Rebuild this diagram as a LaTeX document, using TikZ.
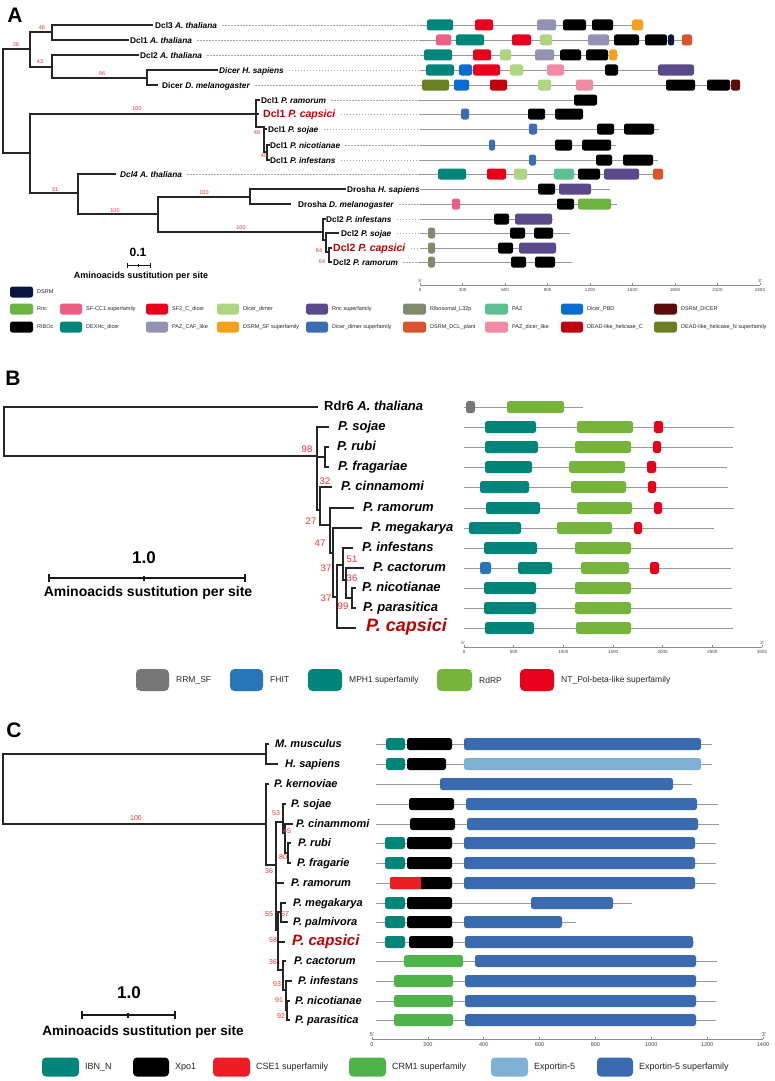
\documentclass[tikz,border=0pt]{standalone}
\usepackage{fontspec}
\setmainfont{Liberation Sans}
\definecolor{cTeal}{HTML}{00857A}
\definecolor{cRed}{HTML}{E8001C}
\definecolor{cPazCaf}{HTML}{9492B3}
\definecolor{cOrange}{HTML}{F7A11A}
\definecolor{cPinkSF}{HTML}{EC5F84}
\definecolor{cDimer}{HTML}{AED581}
\definecolor{cNavy}{HTML}{0B1541}
\definecolor{cDCLplant}{HTML}{D9542B}
\definecolor{cPBD}{HTML}{0B6CCF}
\definecolor{cRncSF}{HTML}{5B4A8B}
\definecolor{cDicerDSRM}{HTML}{5C0A0A}
\definecolor{cDeadN}{HTML}{6B7F25}
\definecolor{cDeadC}{HTML}{C00010}
\definecolor{cPazDicer}{HTML}{F08AA6}
\definecolor{cDimerSF}{HTML}{3A6DB3}
\definecolor{cRibo}{HTML}{7F8A6E}
\definecolor{cPAZ}{HTML}{5CC090}
\definecolor{cRnc}{HTML}{6DB33F}
\definecolor{cRRM}{HTML}{777777}
\definecolor{cFHIT}{HTML}{2676B8}
\definecolor{cRdRP}{HTML}{76B43C}
\definecolor{cCSE}{HTML}{EE1C25}
\definecolor{cCRM}{HTML}{4DB34A}
\definecolor{cExp}{HTML}{7FB0D6}
\definecolor{cExpSF}{HTML}{3A6AB0}
\definecolor{capred}{HTML}{C00000}
\definecolor{bsred}{HTML}{FF3030}
\tikzset{
 treeA/.style={draw=black!85, line width=1.1pt, line cap=rect},
 treeB/.style={draw=black!85, line width=1.5pt, line cap=rect},
 treeC/.style={draw=black!85, line width=1.3pt, line cap=rect},
 lab/.style={anchor=west, inner sep=0pt, text height=0.7em, text depth=0pt},
 labA/.style={lab, font=\fontsize{8.3}{10}\selectfont\bfseries},
 capA/.style={lab, font=\fontsize{10.5}{12}\selectfont\bfseries, text=capred},
 labB/.style={lab, font=\fontsize{13}{15}\selectfont\bfseries\itshape},
 capB/.style={lab, font=\fontsize{18}{20}\selectfont\bfseries\itshape, text=capred},
 labC/.style={lab, font=\fontsize{11}{13}\selectfont\bfseries\itshape},
 capC/.style={lab, font=\fontsize{15}{17}\selectfont\bfseries\itshape, text=capred},
 bsA/.style={inner sep=0pt, text=bsred, font=\fontsize{5.5}{6}\selectfont},
 bsB/.style={inner sep=0pt, text=bsred, font=\fontsize{9.5}{10}\selectfont},
 bsC/.style={inner sep=0pt, text=bsred, font=\fontsize{7}{8}\selectfont},
 prot/.style={draw=black!40, line width=0.9pt},
 leader/.style={draw=black!35, line width=0.6pt, dash pattern=on 1.5pt off 1.5pt},
 axis/.style={draw=black!45, line width=1pt},
 tickA/.style={inner sep=0pt, font=\fontsize{4.5}{5}\selectfont, text=black!75},
 tickC/.style={inner sep=0pt, font=\fontsize{5.5}{6}\selectfont, text=black!75},
 panel/.style={inner sep=0pt, font=\fontsize{21}{24}\selectfont\bfseries},
 legA/.style={anchor=west, inner sep=0pt, font=\fontsize{5.5}{6}\selectfont, text=black!85},
 legB/.style={anchor=west, inner sep=0pt, font=\fontsize{8.5}{9}\selectfont, text=black!85},
 legC/.style={anchor=west, inner sep=0pt, font=\fontsize{9}{10}\selectfont, text=black!85},
 sbar/.style={draw=black!90, line width=1.4pt},
 sbnum/.style={inner sep=0pt, font=\fontsize{17}{19}\selectfont\bfseries},
 sbtxt/.style={inner sep=0pt, font=\fontsize{14}{16}\selectfont\bfseries},
}
\newcommand\domA[4]{\fill[#4,rounded corners=2.2pt] (#1,#3-5.5) rectangle (#2,#3+5.5);}
\newcommand\domB[4]{\fill[#4,rounded corners=2.5pt] (#1,#3-6) rectangle (#2,#3+6);}
\newcommand\legsw[6]{\fill[#5,rounded corners=#6] (#1,#3-#4/2) rectangle (#2,#3+#4/2);}
\begin{document}
\begin{tikzpicture}[x=1pt,y=-1pt]
\useasboundingbox (0,0) rectangle (775,1081);
\fill[white] (0,0) rectangle (775,1081);

%================ PANEL A =================
\node[panel] (pnA) at (15,15) {A};
% internal nodes
\coordinate (aR) at (3,101);
\coordinate (a1) at (30,49);
\coordinate (a2) at (52,32);
\coordinate (a3) at (52,67);
\coordinate (a4) at (147,78);
\coordinate (b1) at (30,153);
\coordinate (b2) at (256,114);
\coordinate (b4) at (264,127);
\coordinate (b5) at (267,152);
\coordinate (b3) at (78,193);
\coordinate (b6) at (158,214);
\coordinate (b7) at (250,197);
\coordinate (b8) at (323,232);
\coordinate (b9) at (326,240);
\coordinate (b10) at (329,252);
% tips
\coordinate (tA1) at (152,25);
\coordinate (tA2) at (128,40);
\coordinate (tA3) at (138,55);
\coordinate (tA4) at (217,70);
\coordinate (tA5) at (157,85);
\coordinate (tA6) at (259,100);
\coordinate (tA7) at (258,114);
\coordinate (tA8) at (266,129);
\coordinate (tA9) at (269,145);
\coordinate (tA10) at (269,160);
\coordinate (tA11) at (115,174);
\coordinate (tA12) at (345,189);
\coordinate (tA13) at (290,204);
\coordinate (tA14) at (325,219);
\coordinate (tA15) at (338,233);
\coordinate (tA16) at (331,248);
\coordinate (tA17) at (331,262);
\draw[treeA] (aR) |- (a1) (aR) |- (b1)
  (a1) |- (a2) (a1) |- (a3)
  (a2) |- (tA1) (a2) |- (tA2)
  (a3) |- (tA3) (a3) |- (a4)
  (a4) |- (tA4) (a4) |- (tA5)
  (b1) |- (b2) (b1) |- (b3)
  (b2) |- (tA6) (b2) |- (tA7) (b2) |- (b4)
  (b4) |- (tA8) (b4) |- (b5)
  (b5) |- (tA9) (b5) |- (tA10)
  (b3) |- (tA11) (b3) |- (b6)
  (b6) |- (b7) (b6) |- (b8)
  (b7) |- (tA12) (b7) |- (tA13)
  (b8) |- (tA14) (b8) |- (b9)
  (b9) |- (tA15) (b9) |- (b10)
  (b10) |- (tA16) (b10) |- (tA17);
% labels
\node[labA] (lA1) at (155,25) {Dcl3 \textit{A. thaliana}};
\node[labA] (lA2) at (130,40) {Dcl1 \textit{A. thaliana}};
\node[labA] (lA3) at (140,55) {Dcl2 \textit{A. thaliana}};
\node[labA] (lA4) at (219,70) {\textit{Dicer H. sapiens}};
\node[labA] (lA5) at (162,85) {Dicer \textit{D. melanogaster}};
\node[labA] (lA6) at (261,100) {Dcl1 \textit{P. ramorum}};
\node[capA] (lA7) at (263,114) {Dcl1 \textit{P. capsici}};
\node[labA] (lA8) at (268,129) {Dcl1 \textit{P. sojae}};
\node[labA] (lA9) at (270,145) {Dcl1 \textit{P. nicotianae}};
\node[labA] (lA10) at (270,160) {Dcl1 \textit{P. infestans}};
\node[labA] (lA11) at (120,174) {\textit{Dcl4 A. thaliana}};
\node[labA] (lA12) at (347,189) {Drosha \textit{H. sapiens}};
\node[labA] (lA13) at (298,204) {Drosha \textit{D. melanogaster}};
\node[labA] (lA14) at (326,219) {Dcl2 \textit{P. infestans}};
\node[labA] (lA15) at (341,233) {Dcl2 \textit{P. sojae}};
\node[capA] (lA16) at (333,248) {Dcl2 \textit{P. capsici}};
\node[labA] (lA17) at (333,262) {Dcl2 \textit{P. ramorum}};
% bootstrap
\foreach \n/\x/\y/\t in {1/42/28/48,2/16/45/38,3/40/62/43,4/102/74/96,5/137/109/100,6/257/133/48,7/264/156/49,8/55/190/31,9/115/211/100,10/204/193/100,11/241/228/100,12/319/251/64,13/322/262/64}
  {\node[bsA] (bA\n) at (\x,\y) {\t};}
% protein lines + leaders
\foreach \i/\y/\e in {1/25/643,2/40/692,3/55/618,4/70/693,5/85/740,6/100/597,7/114/583,8/129/659,9/145/616,10/160/658,11/174/663,12/189/610,13/204/617,14/219/553,15/233/570,16/248/556,17/262/572}
  {\coordinate (pA\i) at (420,\y);
   \draw[prot] (pA\i) -- (\e,\y);}
\foreach \i in {1,2,3,4,5,6,7,8,9,10,11,13,14,15,16,17}
  {\draw[leader] ([xshift=5pt]lA\i.east) -- (pA\i);}
% domains A
\domA{427}{453}{25}{cTeal}\domA{475}{493}{25}{cRed}\domA{537}{556}{25}{cPazCaf}\domA{563}{586}{25}{black}\domA{592}{613}{25}{black}\domA{632}{643}{25}{cOrange}
\domA{436}{451}{40}{cPinkSF}\domA{456}{484}{40}{cTeal}\domA{512}{531}{40}{cRed}\domA{540}{552}{40}{cDimer}\domA{588}{609}{40}{cPazCaf}\domA{614}{639}{40}{black}\domA{645}{667}{40}{black}\domA{668}{674}{40}{cNavy}\domA{682}{692}{40}{cDCLplant}
\domA{424}{452}{55}{cTeal}\domA{473}{491}{55}{cRed}\domA{500}{511}{55}{cDimer}\domA{535}{554}{55}{cPazCaf}\domA{560}{581}{55}{black}\domA{586}{608}{55}{black}\domA{609}{617}{55}{cOrange}
\domA{426}{454}{70}{cTeal}\domA{459}{472}{70}{cPBD}\domA{473}{500}{70}{cRed}\domA{510}{523}{70}{cDimer}\domA{547}{564}{70}{cPazDicer}\domA{605}{618}{70}{black}\domA{658}{694}{70}{cRncSF}
\domA{422}{449}{85}{cDeadN}\domA{454}{469}{85}{cPBD}\domA{490}{507}{85}{cDeadC}\domA{538}{551}{85}{cDimer}\domA{576}{593}{85}{cPazDicer}\domA{666}{695}{85}{black}\domA{707}{730}{85}{black}\domA{731}{740}{85}{cDicerDSRM}
\domA{574}{597}{100}{black}
\domA{461}{469}{114}{cDimerSF}\domA{528}{545}{114}{black}\domA{555}{583}{114}{black}
\domA{529}{537}{129}{cDimerSF}\domA{597}{614}{129}{black}\domA{624}{654}{129}{black}
\domA{489}{495}{145}{cDimerSF}\domA{555}{572}{145}{black}\domA{582}{611}{145}{black}
\domA{529}{536}{160}{cDimerSF}\domA{596}{612}{160}{black}\domA{623}{653}{160}{black}
\domA{438}{466}{174}{cTeal}\domA{487}{506}{174}{cRed}\domA{514}{527}{174}{cDimer}\domA{554}{574}{174}{cPAZ}\domA{578}{600}{174}{black}\domA{604}{639}{174}{cRncSF}\domA{653}{663}{174}{cDCLplant}
\domA{538}{555}{189}{black}\domA{559}{591}{189}{cRncSF}
\domA{452}{460}{204}{cPinkSF}\domA{557}{574}{204}{black}\domA{578}{611}{204}{cRnc}
\domA{494}{509}{219}{black}\domA{515}{552}{219}{cRncSF}
\domA{428}{435}{233}{cRibo}\domA{510}{525}{233}{black}\domA{534}{553}{233}{black}
\domA{428}{435}{248}{cRibo}\domA{498}{513}{248}{black}\domA{519}{556}{248}{cRncSF}
\domA{428}{435}{262}{cRibo}\domA{511}{526}{262}{black}\domA{535}{555}{262}{black}
% scale bar A
\node[inner sep=0pt, font=\fontsize{12}{14}\selectfont\bfseries] (sbA) at (138,252) {0.1};
\draw[sbar, line width=1pt] (127,265) -- (150,265) (127,262.5) -- (127,267.5) (150,262.5) -- (150,267.5) (138.5,263.5) -- (138.5,266.5);
\node[inner sep=0pt, font=\fontsize{9}{10}\selectfont\bfseries] (stA) at (141,276) {Aminoacids sustitution per site};
% axis A
\draw[axis] (420,285) -- (760,285);
\foreach \v in {0,300,...,2400}
  {\draw[axis,line width=0.6pt] ({420+\v*0.141667},285) -- ++(0,-2);
   \node[tickA] (axA\v) at ({420+\v*0.141667},290) {\v};}
\node[tickA] (a5p) at (420,281) {5'};
\node[tickA] (a3p) at (760,281) {3'};
% legend A
\legsw{10}{33}{292}{11}{cNavy}{2.5pt}
\node[legA] (gA0) at (37,292) {DSRM};
\foreach \xa/\xb/\c/\t [count=\k] in {10/33/cRnc/Rnc,60/82/cPinkSF/SF-CC1 superfamily,146/168/cRed/SF2\_C\_dicer,217/239/cDimer/Dicer\_dimer,306/328/cRncSF/Rnc superfamily,403/426/cRibo/Ribosomal\_L32p,485/508/cPAZ/PAZ,561/583/cPBD/Dicer\_PBD,654/677/cDicerDSRM/DSRM\_DICER}
  {\legsw{\xa}{\xb}{309}{11}{\c}{2.5pt}
   \node[legA] (gAa\k) at (\xb+4,309) {\t};}
\foreach \xa/\xb/\c/\t [count=\k] in {10/33/black/RIBOc,60/82/cTeal/DEXHc\_dicer,146/168/cPazCaf/PAZ\_CAF\_like,217/239/cOrange/DSRM\_SF superfamily,306/328/cDimerSF/Dicer\_dimer superfamily,403/426/cDCLplant/DSRM\_DCL\_plant,485/508/cPazDicer/PAZ\_dicer\_like,561/583/cDeadC/DEAD-like\_helicase\_C,654/677/cDeadN/DEAD-like\_helicase\_N superfamily}
  {\legsw{\xa}{\xb}{327}{11}{\c}{2.5pt}
   \node[legA] (gAb\k) at (\xb+4,327) {\t};}

%================ PANEL B =================
\node[panel] (pnB) at (13,378) {B};
\coordinate (bR) at (4,432);
\coordinate (c1) at (317,456);
\coordinate (rf) at (325,457);
\coordinate (c2) at (320,510);
\coordinate (c3) at (330,525);
\coordinate (c4) at (333,553);
\coordinate (c5) at (337,597);
\coordinate (c6) at (343,565);
\coordinate (c7) at (346,580);
\coordinate (c8) at (352,598);
\coordinate (tB0) at (317,407);
\coordinate (tB1) at (328,427);
\coordinate (tB2) at (328,447);
\coordinate (tB3) at (328,467);
\coordinate (tB4) at (331,487);
\coordinate (tB5) at (353,508);
\coordinate (tB6) at (361,528);
\coordinate (tB7) at (352,548);
\coordinate (tB8) at (363,568);
\coordinate (tB9) at (355,588);
\coordinate (tB10) at (355,608);
\coordinate (tB11) at (355,628);
\draw[treeB] (bR) |- (tB0) (bR) |- (c1)
  (c1) |- (tB1) (c1) |- (rf) (c1) |- (c2)
  (rf) |- (tB2) (rf) |- (tB3)
  (c2) |- (tB4) (c2) |- (c3)
  (c3) |- (tB5) (c3) |- (c4)
  (c4) |- (tB6) (c4) |- (c5)
  (c5) |- (c6) (c5) |- (tB11)
  (c6) |- (tB7) (c6) |- (c7)
  (c7) |- (tB8) (c7) |- (c8)
  (c8) |- (tB9) (c8) |- (tB10);
\node[lab, font=\fontsize{13}{15}\selectfont\bfseries] (lB0) at (324,407) {Rdr6 \textit{A. thaliana}};
\foreach \i/\x/\y/\t in {1/338/427/P. sojae,2/337/447/P. rubi,3/338/467/P. fragariae,4/341/487/P. cinnamomi,5/363/508/P. ramorum,6/371/528/P. megakarya,7/362/548/P. infestans,8/373/568/P. cactorum,9/362/588/P. nicotianae,10/363/608/P. parasitica}
  {\node[labB] (lB\i) at (\x,\y) {\t};}
\node[capB] (lB11) at (366,628) {P. capsici};
\foreach \n/\x/\y/\t in {1/307/449/98,2/325/481/32,3/311/521/27,4/320/543/47,5/326/568/37,6/352/559/51,7/352/578/36,8/326/598/37,9/343/606/99}
  {\node[bsB] (bB\n) at (\x,\y) {\t};}
% scale bar B
\node[sbnum] (sbB) at (144,558) {1.0};
\draw[sbar] (49,578) -- (245,578) (49,574) -- (49,582) (245,574) -- (245,582) (144,575.5) -- (144,580.5);
\node[sbtxt] (stB) at (148,593) {Aminoacids sustitution per site};
% protein lines B
\foreach \y/\e in {407/583,427/734,447/733,467/727,487/728,508/734,528/714,548/733,568/731,588/732,608/732,628/733}
  {\draw[prot] (464,\y) -- (\e,\y);}
\domB{466}{475}{407}{cRRM}\domB{507}{564}{407}{cRdRP}
\domB{485}{536}{427}{cTeal}\domB{577}{633}{427}{cRdRP}\domB{654}{663}{427}{cRed}
\domB{485}{538}{447}{cTeal}\domB{575}{631}{447}{cRdRP}\domB{653}{661}{447}{cRed}
\domB{485}{532}{467}{cTeal}\domB{569}{625}{467}{cRdRP}\domB{647}{656}{467}{cRed}
\domB{480}{529}{487}{cTeal}\domB{571}{626}{487}{cRdRP}\domB{648}{656}{487}{cRed}
\domB{486}{540}{508}{cTeal}\domB{577}{632}{508}{cRdRP}\domB{654}{662}{508}{cRed}
\domB{469}{521}{528}{cTeal}\domB{557}{612}{528}{cRdRP}\domB{634}{642}{528}{cRed}
\domB{484}{537}{548}{cTeal}\domB{575}{631}{548}{cRdRP}
\domB{480}{491}{568}{cFHIT}\domB{518}{552}{568}{cTeal}\domB{581}{629}{568}{cRdRP}\domB{650}{659}{568}{cRed}
\domB{484}{536}{588}{cTeal}\domB{575}{631}{588}{cRdRP}
\domB{484}{536}{608}{cTeal}\domB{575}{631}{608}{cRdRP}
\domB{485}{534}{628}{cTeal}\domB{576}{631}{628}{cRdRP}
% axis B
\draw[axis] (464,647) -- (762,647);
\foreach \v in {0,500,...,3000}
  {\draw[axis,line width=0.6pt] ({464+\v*0.09933},647) -- ++(0,-2);
   \node[tickA] (axB\v) at ({464+\v*0.09933},651.5) {\v};}
\node[tickA] (b5p) at (463,643) {5'};
\node[tickA] (b3p) at (762,643) {3'};
% legend B
\foreach \xa/\xb/\c/\t [count=\k] in {136/169/cRRM/RRM\_SF,230/263/cFHIT/FHIT,308/342/cTeal/MPH1 superfamily,437/472/cRdRP/RdRP,520/554/cRed/NT\_Pol-beta-like superfamily}
  {\legsw{\xa}{\xb}{680}{22}{\c}{4.5pt}
   \node[legB] (gB\k) at (\xb+7,680) {\t};}

%================ PANEL C =================
\node[panel] (pnC) at (14,730) {C};
\coordinate (cR) at (3,789);
\coordinate (d1) at (266,754);
\coordinate (d2) at (266,824);
\coordinate (d3) at (276,865);
\coordinate (d4) at (283,822);
\coordinate (d4b) at (285,833);
\coordinate (rf2) at (288,853);
\coordinate (d7) at (278,930);
\coordinate (d5) at (281,912);
\coordinate (d8) at (283,970);
\coordinate (d9) at (286,990);
\coordinate (d10) at (287,1010);
\coordinate (tC1) at (268,744);
\coordinate (tC2) at (277,764);
\coordinate (tC3) at (268,784);
\coordinate (tC4) at (285,804);
\coordinate (tC5) at (292,824);
\coordinate (tC6) at (290,843);
\coordinate (tC7) at (290,863);
\coordinate (tC8) at (283,883);
\coordinate (tC9) at (285,903);
\coordinate (tC10) at (287,922);
\coordinate (tC11) at (284,942);
\coordinate (tC12) at (285,961);
\coordinate (tC13) at (291,981);
\coordinate (tC14) at (289,1001);
\coordinate (tC15) at (289,1020);
\draw[treeC] (cR) |- (d1) (cR) |- (d2)
  (d1) |- (tC1) (d1) |- (tC2)
  (d2) |- (tC3) (d2) |- (d3)
  (d3) |- (d4) (d3) |- (tC8) (d3) |- (d7)
  (d4) |- (tC4) (d4) |- (d4b)
  (d4b) |- (tC5) (d4b) |- (rf2)
  (rf2) |- (tC6) (rf2) |- (tC7)
  (d7) |- (d5) (d7) |- (tC11) (d7) |- (d8)
  (d5) |- (tC9) (d5) |- (tC10)
  (d8) |- (tC12) (d8) |- (d9)
  (d9) |- (tC13) (d9) |- (d10)
  (d10) |- (tC14) (d10) |- (tC15);
\foreach \i/\x/\y/\t in {1/275/744/M. musculus,2/285/764/H. sapiens,3/274/784/P. kernoviae,4/291/804/P. sojae,5/296/824/P. cinammomi,6/298/843/P. rubi,7/297/863/P. fragarie,8/291/883/P. ramorum,9/293/903/P. megakarya,10/293/922/P. palmivora,12/294/961/P. cactorum,13/298/981/P. infestans,14/295/1001/P. nicotianae,15/295/1020/P. parasitica}
  {\node[labC] (lC\i) at (\x,\y) {\t};}
\node[capC] (lC11) at (292,942) {P. capsici};
\foreach \n/\x/\y/\t in {1/136/818/100,2/276/813/53,3/287/831/45,4/283/857/80,5/269/871/36,6/269/914/55,7/285/914/57,8/273/940/58,9/273/962/36,10/277/984/93,11/279/1000/91,12/281/1016/92}
  {\node[bsC] (bC\n) at (\x,\y) {\t};}
% scale bar C
\node[sbnum] (sbC) at (129,993) {1.0};
\draw[sbar] (82,1015) -- (175,1015) (82,1011) -- (82,1019) (175,1011) -- (175,1019) (128,1012.5) -- (128,1017.5);
\node[sbtxt, font=\fontsize{13.5}{15}\selectfont\bfseries] (stC) at (143,1032) {Aminoacids sustitution per site};
% protein lines C
\foreach \y/\e in {744/712,764/712,784/692,804/718,824/719,843/716,863/716,883/716,903/632,922/576,942/694,961/717,981/717,1001/716,1020/716}
  {\draw[prot] (376,\y) -- (\e,\y);}
\domB{386}{405}{744}{cTeal}\domB{407}{452}{744}{black}\domB{464}{701}{744}{cExpSF}
\domB{386}{405}{764}{cTeal}\domB{407}{446}{764}{black}\domB{464}{701}{764}{cExp}
\domB{440}{673}{784}{cExpSF}
\domB{409}{454}{804}{black}\domB{466}{697}{804}{cExpSF}
\domB{410}{455}{824}{black}\domB{467}{698}{824}{cExpSF}
\domB{385}{405}{843}{cTeal}\domB{407}{452}{843}{black}\domB{464}{695}{843}{cExpSF}
\domB{385}{405}{863}{cTeal}\domB{407}{452}{863}{black}\domB{464}{695}{863}{cExpSF}
\domB{390}{452}{883}{black}
\fill[cCSE,rounded corners=2.5pt] (390,877) rectangle (428,889);
\fill[black] (421,877) rectangle (431,889);
\domB{464}{695}{883}{cExpSF}
\domB{385}{405}{903}{cTeal}\domB{407}{452}{903}{black}\domB{531}{613}{903}{cExpSF}
\domB{385}{405}{922}{cTeal}\domB{407}{452}{922}{black}\domB{464}{562}{922}{cExpSF}
\domB{385}{405}{942}{cTeal}\domB{409}{453}{942}{black}\domB{465}{693}{942}{cExpSF}
\domB{404}{463}{961}{cCRM}\domB{475}{696}{961}{cExpSF}
\domB{394}{453}{981}{cCRM}\domB{465}{696}{981}{cExpSF}
\domB{394}{453}{1001}{cCRM}\domB{465}{696}{1001}{cExpSF}
\domB{394}{453}{1020}{cCRM}\domB{465}{696}{1020}{cExpSF}
% axis C
\draw[axis] (372,1039) -- (763,1039);
\foreach \v in {0,200,...,1400}
  {\draw[axis,line width=0.6pt] ({372+\v*0.27929},1039) -- ++(0,-2);
   \node[tickC] (axC\v) at ({372+\v*0.27929},1044.5) {\v};}
\node[tickC] (c5p) at (372,1035) {5'};
\node[tickC] (c3p) at (764,1035) {3'};
% legend C
\foreach \xa/\xb/\c/\t [count=\k] in {42/79/cTeal/IBN\_N,133/169/black/Xpo1,213/250/cCSE/CSE1 superfamily,349/386/cCRM/CRM1 superfamily,491/528/cExp/Exportin-5,597/633/cExpSF/Exportin-5 superfamily}
  {\legsw{\xa}{\xb}{1067}{19}{\c}{4pt}
   \node[legC] (gC\k) at (\xb+6,1067) {\t};}
\end{tikzpicture}
\end{document}
